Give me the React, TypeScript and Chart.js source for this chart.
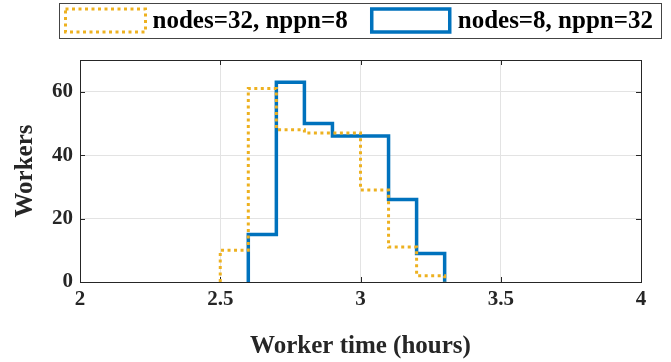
import React, { useEffect, useRef } from "react";
import { Chart, registerables } from "chart.js";

Chart.register(...registerables);

// Histogram bin edges and counts (stairs style)
const edgesA = [2.5, 2.6, 2.7, 2.8, 2.9, 3.0, 3.1, 3.2, 3.3];
const countsA = [10, 61, 48, 47, 47, 29, 11, 2];
const labelA = "nodes=32, nppn=8";

const edgesB = [2.6, 2.7, 2.8, 2.9, 3.0, 3.1, 3.2, 3.3];
const countsB = [15, 63, 50, 46, 46, 26, 9];
const labelB = "nodes=8, nppn=32";

const xTicks = [2, 2.5, 3, 3.5, 4];
const yTicks = [0, 20, 40, 60];
const xTitle = "Worker time (hours)";
const yTitle = "Workers";

const ORANGE = "#EDB120";
const BLUE = "#0072BD";
const AXIS = "#262626";
const FONT = "'Liberation Serif', 'Times New Roman', serif";

function stairs(edges: number[], counts: number[]) {
  const pts: { x: number; y: number }[] = [{ x: edges[0], y: 0 }];
  counts.forEach((c, i) => {
    pts.push({ x: edges[i], y: c });
    pts.push({ x: edges[i + 1], y: c });
  });
  pts.push({ x: edges[edges.length - 1], y: 0 });
  return pts;
}

const framePlugin = {
  id: "frameTicks",
  beforeDatasetsDraw(chart: any) {
    const { ctx, chartArea: a, scales } = chart;
    ctx.save();
    ctx.strokeStyle = AXIS;
    ctx.lineWidth = 1;
    ctx.setLineDash([]);
    const tl = 5;
    ctx.beginPath();
    xTicks.forEach((v) => {
      const px = Math.round(scales.x.getPixelForValue(v)) + 0.5;
      ctx.moveTo(px, a.bottom);
      ctx.lineTo(px, a.bottom - tl);
      ctx.moveTo(px, a.top);
      ctx.lineTo(px, a.top + tl);
    });
    yTicks.forEach((v) => {
      const py = Math.round(scales.y.getPixelForValue(v)) + 0.5;
      ctx.moveTo(a.left, py);
      ctx.lineTo(a.left + tl, py);
      ctx.moveTo(a.right, py);
      ctx.lineTo(a.right - tl, py);
    });
    ctx.stroke();
    ctx.strokeRect(Math.round(a.left) + 0.5, Math.round(a.top) + 0.5, Math.round(a.right - a.left), Math.round(a.bottom - a.top));
    ctx.restore();
  },
  afterDraw(chart: any) {
    const { ctx, chartArea: a } = chart;
    ctx.save();
    ctx.font = `bold 25px ${FONT}`;
    const w1 = ctx.measureText(labelA).width;
    const w2 = ctx.measureText(labelB).width;
    const patchW = 80;
    const total = 6 + patchW + 7 + w1 + 24 + patchW + 6 + w2 + 9;
    const cx = (a.left + a.right) / 2;
    const x0 = Math.round(cx - total / 2) + 0.5;
    const top = 3.5;
    const h = 35;
    ctx.fillStyle = "#ffffff";
    ctx.fillRect(x0, top, total, h);
    ctx.strokeStyle = "#444444";
    ctx.lineWidth = 1;
    ctx.strokeRect(x0, top, Math.round(total), h);

    let x = x0 + 6;
    const py = 9;
    const ph = 23;
    ctx.strokeStyle = ORANGE;
    ctx.lineWidth = 3;
    ctx.setLineDash([3, 3.5]);
    ctx.strokeRect(x, py, patchW, ph);
    ctx.setLineDash([]);
    x += patchW + 7;
    ctx.fillStyle = "#000000";
    ctx.textBaseline = "middle";
    ctx.textAlign = "left";
    ctx.fillText(labelA, x, 21.5);
    x += w1 + 24;
    ctx.strokeStyle = BLUE;
    ctx.lineWidth = 3.5;
    ctx.strokeRect(x, py, patchW - 2, ph);
    x += patchW + 6;
    ctx.fillText(labelB, x, 21.5);
    ctx.restore();
  },
};

export default function App() {
  const ref = useRef<HTMLCanvasElement>(null);
  useEffect(() => {
    if (!ref.current) return;
    const chart = new Chart(ref.current, {
      type: "line",
      data: {
        datasets: [
          {
            label: labelA,
            data: stairs(edgesA, countsA),
            borderColor: ORANGE,
            backgroundColor: ORANGE,
            borderWidth: 3,
            borderDash: [3, 3.5],
            borderCapStyle: "butt",
            borderJoinStyle: "miter",
            pointRadius: 0,
            fill: false,
            tension: 0,
          },
          {
            label: labelB,
            data: stairs(edgesB, countsB),
            borderColor: BLUE,
            backgroundColor: BLUE,
            borderWidth: 3.5,
            borderJoinStyle: "miter",
            pointRadius: 0,
            fill: false,
            tension: 0,
          },
        ],
      },
      options: {
        responsive: false,
        animation: false,
        events: [],
        layout: { padding: { top: 60, right: 30, left: 0, bottom: 0 } },
        plugins: { legend: { display: false }, tooltip: { enabled: false } },
        scales: {
          x: {
            type: "linear",
            min: 2,
            max: 4,
            afterBuildTicks: (s: any) => {
              s.ticks = xTicks.map((v) => ({ value: v }));
            },
            afterFit: (s: any) => {
              s.height = 80;
            },
            ticks: {
              callback: (v: any) => String(v),
              font: { family: FONT, size: 21, weight: "bold" },
              color: AXIS,
              padding: 5,
              maxRotation: 0,
            },
            grid: { color: "#e3e3e3", drawTicks: false, lineWidth: 1 },
            border: { display: false },
            title: {
              display: true,
              text: xTitle,
              font: { family: FONT, size: 25, weight: "bold", lineHeight: 1 },
              color: AXIS,
              padding: { top: 0, bottom: 3 },
            },
          },
          y: {
            type: "linear",
            min: 0,
            max: 70,
            afterBuildTicks: (s: any) => {
              s.ticks = yTicks.map((v) => ({ value: v }));
            },
            afterFit: (s: any) => {
              s.width = 80;
            },
            ticks: {
              callback: (v: any) => String(v),
              font: { family: FONT, size: 21, weight: "bold" },
              color: AXIS,
              padding: 7,
            },
            grid: { color: "#e3e3e3", drawTicks: false, lineWidth: 1 },
            border: { display: false },
            title: {
              display: true,
              text: yTitle,
              font: { family: FONT, size: 25, weight: "bold", lineHeight: 1 },
              color: AXIS,
              padding: { top: 13, bottom: 0 },
            },
          },
        },
      },
      plugins: [framePlugin],
    } as any);
    return () => chart.destroy();
  }, []);
  return (
    <div style={{ position: "absolute", left: 0, top: 0, width: 671, height: 362, background: "#fff" }}>
      <canvas ref={ref} width={671} height={362} style={{ display: "block" }} />
    </div>
  );
}
